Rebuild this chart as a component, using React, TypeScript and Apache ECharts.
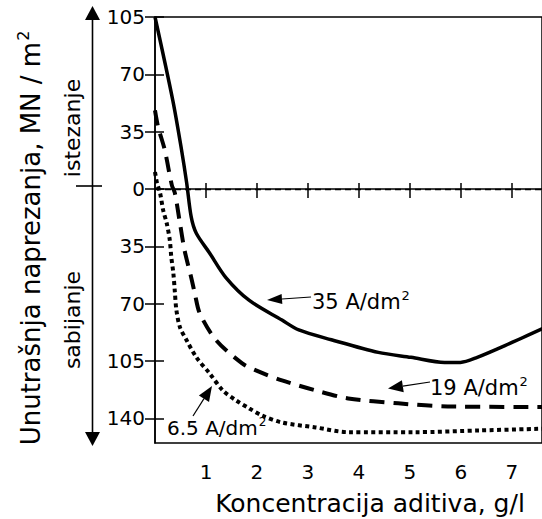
import { useEffect, useRef } from 'react';
import * as echarts from 'echarts';

const FONT = '"DejaVu Sans", sans-serif';

const xTicks = [1, 2, 3, 4, 5, 6, 7];
const yTicks = [-140, -105, -70, -35, 0, 35, 70, 105];

// 35 A/dm² (solid)
const solid35 = [
  [0, 105], [0.35, 54], [0.52, 24], [0.62, 4], [0.71, -17], [0.81, -27],
  [1.07, -39], [1.39, -54], [1.85, -68], [2.49, -80], [2.82, -86], [3.46, -92],
  [4.38, -99.7], [5.02, -102.7], [5.68, -105.8], [5.99, -105.8], [6.32, -102.7],
  [6.96, -94.2], [7.6, -85.2],
];
// 19 A/dm² (dashed)
const dashed19 = [
  [0, 48], [0.06, 38], [0.19, 24], [0.33, 2.4], [0.39, -2.5], [0.49, -21],
  [0.58, -37.4], [0.71, -54], [0.78, -63.6], [0.88, -76], [1.2, -92.3],
  [1.71, -106.4], [1.98, -110.7], [2.49, -116.8], [3.15, -122.9], [3.79, -127.8],
  [4.77, -130.8], [5.74, -132.7], [7.6, -133],
];
// 6.5 A/dm² (dotted)
const dotted65 = [
  [0, 10.4], [0.04, 3.6], [0.1, -2.5], [0.16, -12.9], [0.23, -20.9], [0.29, -31.2],
  [0.32, -41.6], [0.36, -51.4], [0.39, -63], [0.42, -74], [0.49, -84.4],
  [0.62, -92.3], [0.81, -102.7], [1.07, -112.5], [1.33, -122.9], [1.59, -129],
  [1.85, -133.9], [2.1, -138.2], [2.49, -142.5], [3.15, -145.5], [3.79, -148.4],
  [5.09, -148.4], [6.38, -147.3], [7.6, -146.3],
];

function arrow(tail: number[], tip: number[], headLen: number, headHalf: number) {
  const dx = tip[0] - tail[0];
  const dy = tip[1] - tail[1];
  const L = Math.sqrt(dx * dx + dy * dy);
  const ux = dx / L, uy = dy / L;
  const bx = tip[0] - ux * headLen, by = tip[1] - uy * headLen;
  const px = -uy, py = ux;
  return [
    { type: 'line', shape: { x1: tail[0], y1: tail[1], x2: bx, y2: by }, style: { stroke: '#000', lineWidth: 1.2 } },
    {
      type: 'polygon',
      shape: { points: [tip, [bx + px * headHalf, by + py * headHalf], [bx - px * headHalf, by - py * headHalf]] },
      style: { fill: '#000' },
    },
  ];
}

function txt(text: string, x: number, y: number, size: number, align = 'left', rotation = 0, sup = '') {
  const supSize = Math.round(size * 0.62);
  return {
    type: 'text',
    x, y, rotation,
    style: {
      text: sup ? `{a|${text}}{s|${sup}}` : text,
      font: `${size}px ${FONT}`, fill: '#000',
      textAlign: align, textVerticalAlign: 'middle', align, verticalAlign: 'middle',
      rich: sup
        ? {
            a: { fontSize: size, fontFamily: FONT, fill: '#000', lineHeight: size * 1.2 },
            s: { fontSize: supSize, fontFamily: FONT, fill: '#000', verticalAlign: 'top', lineHeight: supSize, padding: [0, 0, 0, 1] },
          }
        : undefined,
    },
  };
}

export default function App() {
  const ref = useRef<HTMLDivElement>(null);
  useEffect(() => {
    document.body.style.margin = '0';
    const chart = echarts.init(ref.current!, null, { renderer: 'svg' });
    const axisLineStyle = { color: '#000', width: 1.5 };
    const xBase = {
      type: 'value', min: 0, max: 7.59, splitLine: { show: false },
    };
    const yBase = {
      type: 'value', min: -155, max: 105, splitLine: { show: false },
    };
    chart.setOption({
      animation: false,
      grid: { left: 155, top: 17, right: -3, bottom: 76, show: true, borderColor: '#000', borderWidth: 1.5 },
      xAxis: [
        {
          ...xBase,
          axisLine: { show: true, lineStyle: axisLineStyle },
          axisTick: { show: true, customValues: xTicks, length: 9, lineStyle: axisLineStyle },
          axisLabel: { customValues: xTicks, margin: 19, fontSize: 20, fontFamily: FONT, color: '#000' },
        },
        {
          ...xBase,
          position: 'bottom',
          axisLine: { show: false },
          axisTick: { show: true, inside: true, customValues: xTicks, length: 6, lineStyle: axisLineStyle },
          axisLabel: { show: false },
        },
      ],
      yAxis: [
        {
          ...yBase,
          axisLine: { show: true, lineStyle: axisLineStyle },
          axisTick: { show: true, customValues: yTicks, length: 10, lineStyle: axisLineStyle },
          axisLabel: {
            customValues: yTicks, margin: 10, fontSize: 20, fontFamily: FONT, color: '#000',
            formatter: (v: number) => String(Math.abs(v)),
          },
        },
        {
          ...yBase,
          position: 'left',
          axisLine: { show: false },
          axisTick: { show: true, inside: true, customValues: yTicks, length: 9, lineStyle: axisLineStyle },
          axisLabel: { show: false },
        },
      ],
      series: [
        {
          type: 'line', data: solid35, showSymbol: false, smooth: 0.3,
          lineStyle: { color: '#000', width: 3.5, type: 'solid' },
          markLine: {
            silent: true, symbol: ['none', 'none'], label: { show: false },
            lineStyle: { color: '#000', width: 1.3, type: [6, 4] },
            data: [{ yAxis: 0 }],
          },
        },
        {
          type: 'line', data: dashed19, showSymbol: false, smooth: 0.3,
          lineStyle: { color: '#000', width: 4, type: [15, 9], cap: 'butt' },
        },
        {
          type: 'line', data: dotted65, showSymbol: false, smooth: 0.3,
          lineStyle: { color: '#000', width: 4, type: [4, 3.4], cap: 'butt' },
        },
      ],
      graphic: [
        // stress direction axis
        { type: 'line', shape: { x1: 92.5, y1: 18, x2: 92.5, y2: 434 }, style: { stroke: '#000', lineWidth: 1.6 } },
        { type: 'polygon', shape: { points: [[92.5, 6], [85, 20], [100, 20]] }, style: { fill: '#000' } },
        { type: 'polygon', shape: { points: [[92.5, 446], [85, 432], [100, 432]] }, style: { fill: '#000' } },
        { type: 'line', shape: { x1: 76, y1: 186, x2: 102, y2: 186 }, style: { stroke: '#000', lineWidth: 1.6 } },
        txt('istezanje', 72, 128, 22, 'center', Math.PI / 2),
        txt('sabijanje', 72, 320, 22, 'center', Math.PI / 2),
        txt('Unutrašnja naprezanja, MN / m', 31, 238, 26, 'center', Math.PI / 2, '2'),
        txt('Koncentracija aditiva, g/l', 370, 503, 25, 'center'),
        // annotations
        ...arrow([311, 297], [267, 300], 15, 5),
        txt('35 A/dm', 312, 301.5, 21, 'left', 0, '2'),
        ...arrow([430, 382], [388, 388.5], 15, 6),
        txt('19 A/dm', 430, 387.5, 21, 'left', 0, '2'),
        ...arrow([193, 416], [212, 386], 15, 6),
        txt('6.5 A/dm', 167, 428, 20, 'left', 0, '2'),
      ],
    });
    return () => chart.dispose();
  }, []);
  return <div ref={ref} style={{ width: 542, height: 519 }} />;
}
